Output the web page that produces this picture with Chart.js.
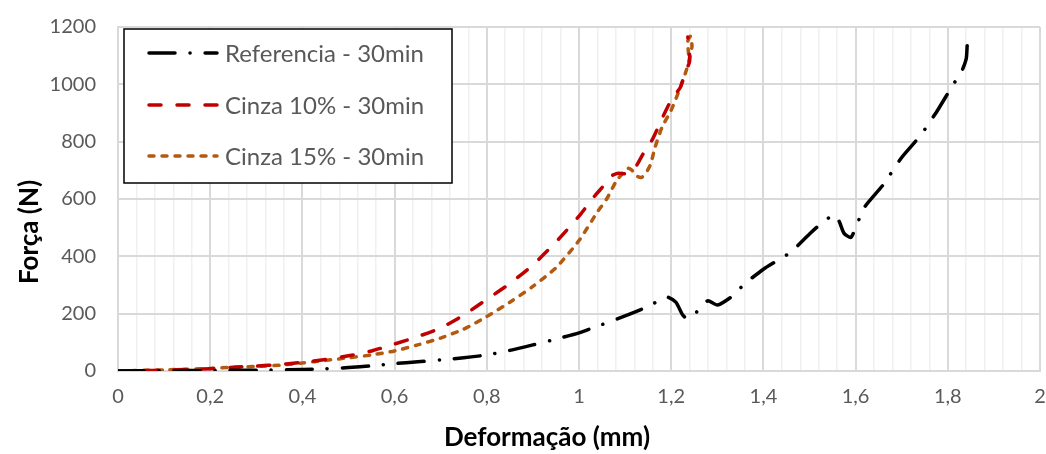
<!DOCTYPE html>
<html>
<head>
<meta charset="utf-8">
<script src="https://cdn.jsdelivr.net/npm/chart.js@4/dist/chart.umd.min.js"></script>
<style>
  body { margin: 0; background: #fff; }
  canvas { display: block; }
</style>
</head>
<body>
<canvas id="chart" width="1046" height="454"></canvas>
<script>
// Deformação (mm) / Força (N)
const refX = [0, 0.1, 0.2, 0.3, 0.4, 0.45, 0.5, 0.55, 0.6, 0.65, 0.7, 0.75, 0.8, 0.85, 0.9, 0.95, 1.0, 1.05, 1.1, 1.15, 1.19, 1.21, 1.225, 1.235, 1.25, 1.265, 1.28, 1.3, 1.33, 1.36, 1.4, 1.43, 1.46, 1.5, 1.53, 1.555, 1.565, 1.575, 1.59, 1.605, 1.62, 1.66, 1.7, 1.74, 1.76, 1.78, 1.81, 1.83, 1.84, 1.842];
const refY = [0, 1, 2, 3, 5, 8, 12, 18, 26, 32, 39, 46, 56, 72, 91, 111, 133, 162, 192, 225, 258, 240, 195, 183, 195, 228, 245, 230, 258, 305, 355, 385, 415, 478, 521, 545, 520, 480, 466, 520, 573, 650, 745, 820, 866, 915, 995, 1045, 1090, 1135];

const c10X = [0, 0.05, 0.1, 0.15, 0.2, 0.25, 0.3, 0.35, 0.4, 0.45, 0.5, 0.55, 0.6, 0.65, 0.7, 0.75, 0.8, 0.85, 0.9, 0.95, 1.0, 1.03, 1.05, 1.07, 1.085, 1.1, 1.12, 1.14, 1.16, 1.18, 1.2, 1.22, 1.23, 1.24, 1.238, 1.236];
const c10Y = [0, 1, 3, 5, 8, 13, 17, 23, 30, 40, 53, 70, 94, 120, 150, 195, 250, 305, 370, 450, 540, 603, 640, 680, 690, 688, 705, 760, 810, 880, 945, 990, 1040, 1080, 1140, 1165];

const c15X = [0, 0.05, 0.1, 0.15, 0.2, 0.25, 0.3, 0.35, 0.4, 0.45, 0.5, 0.55, 0.6, 0.65, 0.7, 0.75, 0.8, 0.85, 0.9, 0.95, 1.0, 1.04, 1.06, 1.08, 1.1, 1.107, 1.115, 1.125, 1.135, 1.145, 1.155, 1.165, 1.18, 1.2, 1.22, 1.233, 1.245, 1.242, 1.236, 1.238];
const c15Y = [0, 2, 4, 6, 9, 13, 16, 20, 28, 37, 46, 56, 70, 91, 115, 146, 190, 240, 295, 360, 455, 555, 600, 660, 700, 707, 700, 680, 675, 690, 720, 780, 850, 910, 990, 1050, 1130, 1168, 1150, 1100];

const seriesNames = ['Referencia - 30min', 'Cinza 10% - 30min', 'Cinza 15% - 30min'];
const yTicks = [0, 200, 400, 600, 800, 1000, 1200];

const FONT = 'Lato, "Open Sans", sans-serif';
const pts = (xs, ys) => xs.map((x, i) => ({ x: x, y: ys[i] }));

// legend box + axis titles drawn by hand (Excel-like placement)
const extras = {
    id: 'extras',
    afterDraw(chart) {
        const ctx = chart.ctx;
        ctx.save();
        // legend
        ctx.fillStyle = '#fff';
        ctx.fillRect(124, 29, 328, 154);
        ctx.strokeStyle = '#000';
        ctx.lineWidth = 1.5;
        ctx.strokeRect(124, 29, 328, 154);
        const rows = [53, 105, 156];
        chart.data.datasets.forEach((ds, i) => {
            ctx.beginPath();
            ctx.strokeStyle = ds.borderColor;
            ctx.lineWidth = ds.borderWidth;
            ctx.lineCap = 'round';
            ctx.setLineDash(ds.borderDash);
            ctx.moveTo(149, rows[i]);
            ctx.lineTo(217, rows[i]);
            ctx.stroke();
            ctx.setLineDash([]);
            ctx.fillStyle = '#595959';
            ctx.font = '24px ' + FONT;
            ctx.textAlign = 'left';
            ctx.textBaseline = 'middle';
            ctx.fillText(ds.label, 225, rows[i] + 1);
        });
        // axis titles
        ctx.fillStyle = '#000';
        ctx.font = 'bold 26px ' + FONT;
        ctx.textAlign = 'center';
        ctx.textBaseline = 'middle';
        ctx.fillText('Deformação (mm)', 547, 438);
        ctx.translate(30, 232);
        ctx.rotate(-Math.PI / 2);
        ctx.fillText('Força (N)', 0, 0);
        ctx.restore();
    }
};

const isMajor = v => Math.abs(v * 5 - Math.round(v * 5)) < 1e-6;

new Chart(document.getElementById('chart'), {
    type: 'scatter',
    data: {
        datasets: [
            { label: seriesNames[0], data: pts(refX, refY), borderColor: '#000000', borderWidth: 3.5, borderDash: [26, 15, 0.1, 15] },
            { label: seriesNames[1], data: pts(c10X, c10Y), borderColor: '#C00000', borderWidth: 3.5, borderDash: [12, 16] },
            { label: seriesNames[2], data: pts(c15X, c15Y), borderColor: '#B35A10', borderWidth: 3.5, borderDash: [5, 8] }
        ].map(d => Object.assign(d, {
            showLine: true, pointRadius: 0, tension: 0.2, borderCapStyle: 'round', fill: false
        }))
    },
    options: {
        responsive: false,
        animation: false,
        devicePixelRatio: 1,
        layout: { padding: { top: 27, right: 6, left: 0, bottom: 0 } },
        plugins: { legend: { display: false }, tooltip: { enabled: false } },
        scales: {
            x: {
                type: 'linear', min: 0, max: 2,
                afterFit: s => { s.height = 83; s.paddingLeft = 0; s.paddingRight = 0; },
                ticks: {
                    stepSize: 0.04, autoSkip: false, maxRotation: 0, padding: 14,
                    color: '#595959', font: { family: FONT, size: 20 },
                    callback: v => isMajor(v) ? String(Math.round(v * 5) / 5).replace('.', ',') : ''
                },
                grid: {
                    drawTicks: false,
                    color: c => isMajor(c.tick.value) ? '#D9D9D9' : '#F0F0F0',
                    lineWidth: c => isMajor(c.tick.value) ? 2 : 1.5
                },
                border: { color: '#D9D9D9', width: 2 }
            },
            y: {
                min: 0, max: 1200,
                afterFit: s => { s.width = 118; s.paddingTop = 0; s.paddingBottom = 0; },
                afterBuildTicks: s => { s.ticks = yTicks.map(v => ({ value: v })); },
                ticks: { padding: 22, color: '#595959', font: { family: FONT, size: 20 }, callback: v => String(v) },
                grid: { drawTicks: false, color: '#D9D9D9', lineWidth: 2 },
                border: { color: '#D9D9D9', width: 2 }
            }
        }
    },
    plugins: [extras]
});
</script>
</body>
</html>
